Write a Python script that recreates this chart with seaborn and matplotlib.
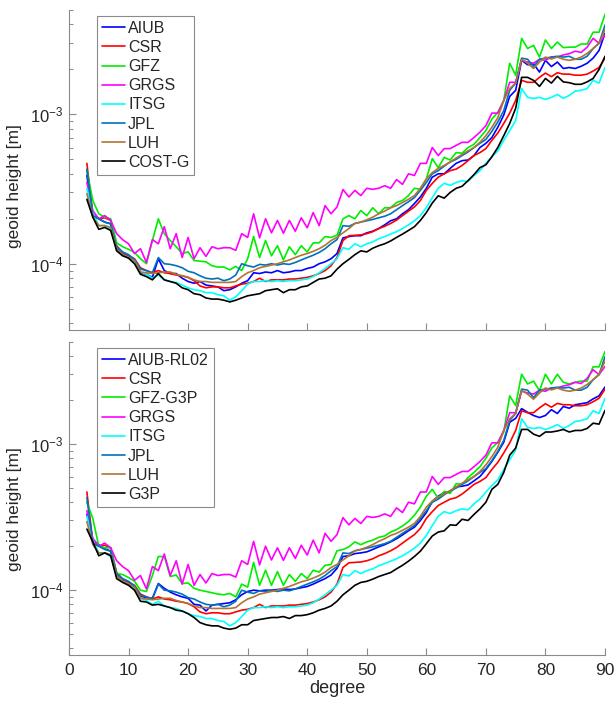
import numpy as np
import pandas as pd
import matplotlib
matplotlib.use("Agg")
import matplotlib.pyplot as plt
import seaborn as sns
from matplotlib.ticker import LogLocator, LogFormatterSciNotation, NullFormatter, MultipleLocator

# spherical harmonic degree 3..90
degree = list(range(3, 91))

# geoid height per degree, in units of 1e-4 m
aiub = [3.9, 2.1, 2.0, 1.9, 1.85, 1.26, 1.17, 1.1, 1.05, 0.87,
        0.85, 0.81, 1.08, 0.9, 0.86, 0.86, 0.8, 0.76, 0.74, 0.76,
        0.72, 0.71, 0.7, 0.66, 0.67, 0.7, 0.74, 0.77, 0.87, 0.86,
        0.88, 0.87, 0.9, 0.87, 0.88, 0.9, 0.9, 0.93, 0.95, 1.0,
        1.03, 1.08, 1.17, 1.49, 1.52, 1.54, 1.54, 1.61, 1.65, 1.72,
        1.82, 1.94, 2.0, 2.16, 2.3, 2.53, 2.8, 3.2, 3.8, 4.0,
        4.0, 4.35, 4.7, 4.9, 4.95, 5.3, 6.0, 6.4, 7.0, 8.2,
        9.9, 13.2, 14.5, 23.0, 21.5, 21.8, 19.2, 23.0, 20.9, 22.4,
        20.3, 20.6, 20.3, 21.0, 22.0, 23.8, 26.8, 34.9]
aiub_rl02 = [3.3, 2.2, 2.05, 1.92, 1.85, 1.26, 1.18, 1.14, 1.06, 0.91,
             0.89, 0.88, 1.11, 1.03, 0.97, 0.93, 0.9, 0.88, 0.8, 0.79,
             0.72, 0.79, 0.8, 0.81, 0.82, 0.86, 0.93, 0.98, 1.0, 0.99,
             1.0, 1.0, 1.01, 1.02, 1.01, 1.02, 1.04, 1.06, 1.1, 1.15,
             1.2, 1.27, 1.41, 1.7, 1.72, 1.78, 1.8, 1.83, 1.9, 1.98,
             2.05, 2.14, 2.25, 2.39, 2.55, 2.7, 3.0, 3.4, 4.06, 4.4,
             4.66, 4.7, 5.1, 5.15, 5.25, 5.6, 6.0, 6.7, 7.6, 8.8,
             10.3, 14.1, 15.0, 17.5, 16.5, 15.7, 15.2, 15.7, 17.2, 16.2,
             18.1, 17.6, 18.6, 18.9, 19.2, 20.4, 21.4, 24.6]
csr = [4.7, 2.15, 2.0, 2.03, 1.95, 1.32, 1.19, 1.13, 1.08, 0.94,
       0.9, 0.87, 0.9, 0.87, 0.86, 0.84, 0.83, 0.81, 0.77, 0.71,
       0.69, 0.7, 0.7, 0.69, 0.69, 0.71, 0.73, 0.74, 0.76, 0.8,
       0.76, 0.78, 0.78, 0.78, 0.79, 0.79, 0.8, 0.81, 0.83, 0.86,
       0.9, 0.97, 1.1, 1.43, 1.54, 1.55, 1.56, 1.59, 1.64, 1.72,
       1.78, 1.86, 1.96, 2.1, 2.25, 2.4, 2.65, 3.1, 3.45, 3.8,
       4.0, 4.2, 4.3, 4.55, 4.9, 5.3, 5.55, 5.9, 6.7, 7.5,
       8.7, 10.2, 12.4, 16.9, 16.4, 16.4, 17.7, 18.9, 17.9, 19.0,
       18.6, 18.6, 18.3, 18.3, 18.6, 19.5, 20.6, 23.8]
gfz = [4.2, 2.65, 2.16, 2.05, 2.0, 1.38, 1.3, 1.25, 1.19, 1.08,
       1.0, 1.43, 2.0, 1.59, 1.43, 1.3, 1.17, 1.2, 1.05, 1.04,
       1.03, 0.97, 0.95, 0.95, 0.91, 0.96, 0.9, 1.08, 1.52, 1.1,
       1.43, 1.13, 1.32, 1.06, 1.3, 1.15, 1.32, 1.2, 1.38, 1.38,
       1.52, 1.5, 1.55, 2.0, 2.1, 2.0, 2.27, 2.1, 2.37, 2.16,
       2.37, 2.37, 2.57, 2.65, 2.86, 3.2, 3.15, 3.7, 5.05, 4.4,
       5.15, 4.95, 5.55, 5.5, 6.0, 6.3, 7.0, 7.8, 9.3, 10.3,
       12.4, 22.0, 18.3, 32.3, 27.6, 29.0, 24.2, 31.5, 27.6, 30.5,
       28.0, 28.2, 28.2, 29.6, 29.6, 35.5, 35.5, 46.8]
gfz_g3p = [4.0, 3.1, 2.0, 1.95, 1.95, 1.3, 1.28, 1.22, 1.15, 1.0,
           0.98, 1.26, 1.7, 1.7, 1.24, 1.27, 1.11, 1.12, 1.03, 1.0,
           0.98, 0.96, 0.94, 0.93, 0.95, 0.9, 1.1, 1.05, 1.55, 1.08,
           1.37, 1.08, 1.34, 1.08, 1.28, 1.15, 1.3, 1.2, 1.37, 1.33,
           1.48, 1.5, 1.86, 1.9, 1.98, 2.14, 2.05, 2.14, 2.2, 2.3,
           2.35, 2.5, 2.6, 2.75, 2.95, 3.26, 3.7, 4.4, 4.9, 4.25,
           4.74, 4.6, 5.36, 5.3, 5.9, 6.4, 7.0, 8.0, 9.4, 10.3,
           12.1, 21.4, 18.4, 30.1, 25.8, 27.0, 23.2, 30.1, 25.8, 30.1,
           26.5, 25.8, 26.5, 27.0, 27.0, 33.8, 33.8, 43.0]
grgs = [3.5, 2.27, 2.0, 2.1, 1.95, 1.59, 1.45, 1.36, 1.17, 1.26,
        1.02, 1.45, 1.36, 1.77, 1.26, 1.59, 1.1, 1.5, 1.08, 1.28,
        1.12, 1.3, 1.26, 1.28, 1.28, 1.23, 1.59, 1.5, 2.16, 1.49,
        2.0, 1.61, 1.95, 1.6, 1.95, 1.65, 2.03, 1.74, 2.2, 1.8,
        2.45, 2.16, 2.4, 3.14, 2.8, 3.1, 2.86, 3.2, 3.15, 3.2,
        3.33, 3.2, 3.66, 3.4, 4.0, 3.9, 4.7, 4.7, 6.0, 5.3,
        5.9, 5.9, 6.2, 6.5, 6.5, 7.0, 7.6, 8.4, 10.2, 10.2,
        12.4, 16.4, 16.4, 23.0, 22.4, 22.0, 23.4, 23.0, 24.2, 24.2,
        25.0, 25.5, 26.5, 26.0, 28.2, 32.3, 29.9, 34.0]
itsg = [3.2, 2.2, 1.8, 1.8, 1.7, 1.25, 1.15, 1.1, 1.03, 0.88,
        0.85, 0.8, 0.84, 0.78, 0.76, 0.75, 0.72, 0.69, 0.67, 0.66,
        0.64, 0.64, 0.62, 0.61, 0.57, 0.6, 0.66, 0.73, 0.76, 0.76,
        0.77, 0.76, 0.77, 0.76, 0.77, 0.77, 0.78, 0.79, 0.82, 0.87,
        0.93, 1.0, 1.08, 1.28, 1.25, 1.36, 1.3, 1.36, 1.4, 1.47,
        1.52, 1.58, 1.64, 1.72, 1.82, 1.94, 2.1, 2.37, 2.77, 3.2,
        3.45, 3.35, 3.5, 3.6, 3.55, 3.9, 4.2, 4.7, 5.2, 5.7,
        6.7, 7.8, 9.1, 14.9, 13.0, 12.8, 13.0, 12.6, 13.0, 13.6,
        12.8, 13.4, 14.3, 14.5, 14.9, 16.9, 16.2, 20.6]
jpl = [4.3, 2.1, 2.0, 1.9, 1.85, 1.3, 1.2, 1.15, 1.07, 0.92,
       0.9, 0.87, 1.1, 1.0, 0.99, 0.97, 0.94, 0.89, 0.87, 0.83,
       0.8, 0.79, 0.8, 0.77, 0.79, 0.84, 1.0, 0.97, 0.95, 0.99,
       0.98, 1.0, 0.98, 1.0, 0.99, 1.02, 1.06, 1.1, 1.14, 1.19,
       1.26, 1.36, 1.45, 1.8, 1.78, 1.86, 1.9, 1.94, 1.98, 2.03,
       2.08, 2.16, 2.3, 2.45, 2.6, 2.77, 3.1, 3.5, 4.0, 4.2,
       4.5, 4.8, 5.0, 5.3, 5.6, 6.0, 6.4, 6.8, 7.7, 8.9,
       10.6, 14.5, 16.2, 23.8, 23.4, 20.8, 23.4, 23.8, 24.2, 24.5,
       24.2, 24.5, 23.4, 23.4, 24.5, 27.6, 29.9, 39.6]
luh = [2.95, 2.05, 1.8, 1.8, 1.75, 1.25, 1.15, 1.1, 1.05, 0.88,
       0.87, 0.86, 0.87, 0.88, 0.88, 0.85, 0.83, 0.81, 0.78, 0.76,
       0.76, 0.75, 0.75, 0.75, 0.75, 0.76, 0.82, 0.87, 0.9, 0.94,
       0.96, 0.98, 1.0, 1.03, 1.06, 1.1, 1.14, 1.17, 1.21, 1.26,
       1.33, 1.43, 1.5, 1.61, 1.72, 1.86, 1.9, 1.97, 2.05, 2.16,
       2.25, 2.37, 2.45, 2.57, 2.7, 2.86, 3.2, 3.7, 4.08, 4.35,
       4.55, 4.8, 5.1, 5.4, 5.7, 6.0, 6.5, 7.2, 8.2, 9.5,
       12.4, 14.9, 16.2, 23.4, 22.0, 20.3, 22.4, 24.2, 23.5, 24.2,
       23.4, 23.0, 23.4, 24.2, 25.6, 27.6, 30.0, 37.0]
cost_g = [2.7, 2.05, 1.7, 1.75, 1.67, 1.22, 1.13, 1.09, 1.0, 0.85,
          0.82, 0.78, 0.86, 0.78, 0.76, 0.74, 0.69, 0.67, 0.63, 0.62,
          0.59, 0.58, 0.58, 0.57, 0.555, 0.57, 0.59, 0.61, 0.62, 0.63,
          0.66, 0.67, 0.68, 0.64, 0.67, 0.67, 0.7, 0.71, 0.75, 0.79,
          0.8, 0.83, 0.92, 1.0, 1.07, 1.15, 1.22, 1.2, 1.27, 1.32,
          1.36, 1.42, 1.5, 1.58, 1.67, 1.77, 1.95, 2.2, 2.55, 2.85,
          2.75, 3.0, 3.2, 3.3, 3.6, 3.95, 4.4, 4.6, 5.2, 6.0,
          7.2, 8.7, 11.0, 17.7, 17.7, 16.9, 15.4, 17.4, 16.2, 18.0,
          16.5, 16.3, 15.9, 15.9, 16.5, 17.4, 20.0, 24.5]
g3p = [2.62, 2.14, 1.72, 1.8, 1.72, 1.2, 1.13, 1.08, 1.0, 0.84,
       0.83, 0.79, 0.8, 0.78, 0.76, 0.73, 0.72, 0.69, 0.65, 0.6,
       0.58, 0.57, 0.57, 0.55, 0.54, 0.55, 0.58, 0.58, 0.62, 0.63,
       0.64, 0.65, 0.65, 0.66, 0.64, 0.67, 0.67, 0.68, 0.7, 0.73,
       0.75, 0.78, 0.84, 0.93, 1.0, 1.08, 1.13, 1.15, 1.19, 1.24,
       1.28, 1.32, 1.4, 1.48, 1.58, 1.7, 1.85, 2.08, 2.35, 2.5,
       2.55, 2.8, 2.78, 3.06, 3.0, 3.3, 3.6, 4.0, 4.9, 5.3,
       6.4, 8.4, 9.4, 12.6, 12.6, 11.7, 11.3, 12.1, 12.1, 12.3,
       12.6, 12.1, 12.4, 12.4, 12.8, 13.9, 13.7, 17.0]

line_colors = ['#0000ff', '#ff0000', '#00ee00', '#ff00ff',
               '#00ffff', '#0072bd', '#b07434', '#000000']

top_series = {'AIUB': aiub, 'CSR': csr, 'GFZ': gfz, 'GRGS': grgs,
              'ITSG': itsg, 'JPL': jpl, 'LUH': luh, 'COST-G': cost_g}
bottom_series = {'AIUB-RL02': aiub_rl02, 'CSR': csr, 'GFZ-G3P': gfz_g3p, 'GRGS': grgs,
                 'ITSG': itsg, 'JPL': jpl, 'LUH': luh, 'G3P': g3p}

sns.set_style("white")
plt.rcParams['font.family'] = ['Liberation Sans', 'DejaVu Sans']
plt.rcParams['mathtext.fontset'] = 'custom'
plt.rcParams['mathtext.rm'] = 'Liberation Sans'
plt.rcParams['mathtext.it'] = 'Liberation Sans'

AX_GRAY = '#8a8a8a'
TXT = '#262626'


def make_frame(series):
    parts = []
    for name, vals in series.items():
        parts.append(pd.DataFrame({'degree': degree,
                                   'height': np.array(vals) * 1e-4,
                                   'solution': name}))
    return pd.concat(parts, ignore_index=True)


def draw_panel(ax, series, show_xlabels, ylabel_y):
    df = make_frame(series)
    names = list(series.keys())
    sns.lineplot(data=df, x='degree', y='height', hue='solution', hue_order=names,
                 palette=dict(zip(names, line_colors)), estimator=None,
                 linewidth=1.2, ax=ax)
    ax.set_yscale('log')
    ax.set_xlim(0, 90)
    ax.set_ylim(3.6e-5, 5e-3)
    ax.xaxis.set_major_locator(MultipleLocator(10))
    ax.yaxis.set_major_locator(LogLocator(base=10))
    ax.yaxis.set_major_formatter(LogFormatterSciNotation())
    ax.yaxis.set_minor_locator(LogLocator(base=10, subs=range(2, 10)))
    ax.yaxis.set_minor_formatter(NullFormatter())

    sns.despine(ax=ax)
    for side in ['left', 'bottom']:
        ax.spines[side].set_color(AX_GRAY)
        ax.spines[side].set_linewidth(0.8)
    ax.tick_params(which='both', bottom=True, left=True, top=False, right=False)
    ax.tick_params(which='major', direction='in', length=5, width=0.8,
                   color=AX_GRAY, labelcolor=TXT)
    ax.tick_params(which='minor', direction='in', length=3, width=0.7, color=AX_GRAY)
    ax.tick_params(axis='x', which='minor', bottom=False)
    ax.tick_params(axis='y', labelsize=12, pad=4)
    ax.tick_params(axis='x', labelsize=12.5, pad=6)
    if not show_xlabels:
        ax.tick_params(axis='x', labelbottom=False)
        ax.set_xlabel('')
    else:
        ax.set_xlabel('degree', fontsize=13, color=TXT, labelpad=1)

    ax.set_ylabel('geoid height [m]', fontsize=12.5, color=TXT)
    ax.yaxis.set_label_coords(-0.088, ylabel_y)

    handles, labels = ax.get_legend_handles_labels()
    ax.legend(handles, labels, loc='upper left', bbox_to_anchor=(0.052, 0.981),
              frameon=True, fancybox=False, edgecolor=AX_GRAY, framealpha=1,
              fontsize=11.5, handlelength=1.45, handletextpad=0.2,
              labelspacing=0.26, borderpad=0.3, borderaxespad=0)
    ax.get_legend().get_frame().set_linewidth(0.8)


fig = plt.figure(figsize=(6.15, 7.02), dpi=100)
ax_top = fig.add_axes([69 / 615, 372 / 702, 536 / 615, 320 / 702])
ax_bot = fig.add_axes([69 / 615, 47 / 702, 536 / 615, 313 / 702])

draw_panel(ax_top, top_series, False, 0.45)
draw_panel(ax_bot, bottom_series, True, 0.466)

fig.savefig('out.png', dpi=100)
